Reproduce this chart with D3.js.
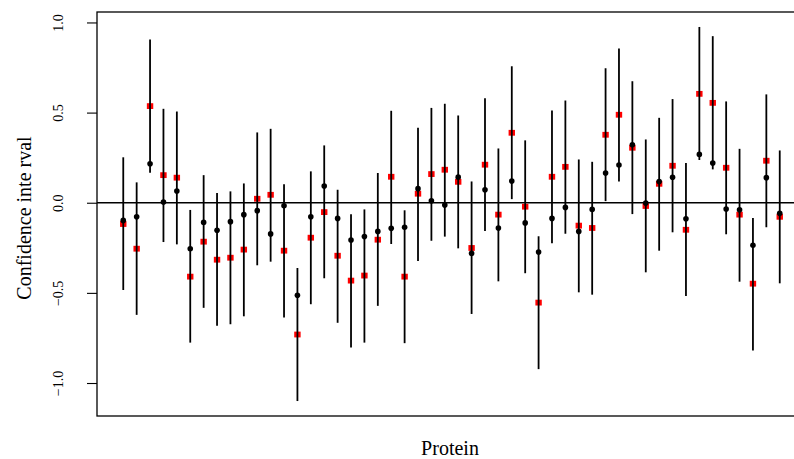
<!DOCTYPE html>
<html>
<head>
<meta charset="utf-8">
<script src="https://cdn.jsdelivr.net/npm/d3@7"></script>
<style>
  html, body { margin: 0; padding: 0; background: #fff; }
  svg { display: block; }
  svg text { font-family: 'Liberation Serif', 'Times New Roman', Tinos, 'DejaVu Serif', serif !important; fill: #000; }
</style>
</head>
<body>
<svg id="chart" width="794" height="459"></svg>
<script>
// ---- data ----
const proteins = d3.range(1, 51);
const upper = [0.252, 0.113, 0.905, 0.521, 0.506, -0.040, 0.153, 0.054, 0.063, 0.107,
               0.390, 0.410, 0.102, -0.362, 0.174, 0.318, 0.072, -0.064, -0.037, 0.165,
               0.510, -0.042, 0.416, 0.526, 0.549, 0.484, 0.118, 0.580, 0.301, 0.757,
               0.346, -0.186, 0.512, 0.567, 0.240, 0.227, 0.746, 0.855, 0.674, 0.351,
               0.471, 0.575, 0.220, 0.975, 0.924, 0.562, 0.299, -0.085, 0.601, 0.290];
const lower = [-0.484, -0.622, 0.166, -0.218, -0.231, -0.776, -0.583, -0.683, -0.674, -0.630,
               -0.347, -0.327, -0.637, -1.100, -0.563, -0.419, -0.666, -0.803, -0.776, -0.572,
               -0.229, -0.779, -0.323, -0.211, -0.188, -0.253, -0.617, -0.157, -0.436, 0.020,
               -0.391, -0.923, -0.225, -0.172, -0.497, -0.510, 0.009, 0.118, -0.063, -0.386,
               -0.266, -0.164, -0.517, 0.237, 0.185, -0.175, -0.438, -0.820, -0.136, -0.447];
const estimate = [-0.098, -0.078, 0.216, 0.004, 0.065, -0.255, -0.109, -0.153, -0.105, -0.066,
                  -0.044, -0.173, -0.017, -0.513, -0.078, 0.093, -0.087, -0.207, -0.188, -0.159,
                  -0.142, -0.136, 0.078, 0.011, -0.013, 0.142, -0.281, 0.072, -0.140, 0.120,
                  -0.112, -0.273, -0.087, -0.026, -0.159, -0.037, 0.165, 0.209, 0.321, -0.002,
                  0.118, 0.141, -0.089, 0.268, 0.220, -0.035, -0.039, -0.236, 0.139, -0.059];
const reference = [-0.118, -0.255, 0.536, 0.153, 0.139, -0.410, -0.216, -0.316, -0.305, -0.260,
                   0.022, 0.044, -0.266, -0.731, -0.194, -0.052, -0.294, -0.432, -0.404, -0.205,
                   0.144, -0.410, 0.050, 0.159, 0.183, 0.116, -0.251, 0.211, -0.066, 0.388,
                   -0.022, -0.554, 0.144, 0.199, -0.127, -0.140, 0.377, 0.488, 0.305, -0.018,
                   0.105, 0.205, -0.150, 0.604, 0.554, 0.194, -0.066, -0.449, 0.233, -0.078];
const yTicks = [-1.0, -0.5, 0.0, 0.5, 1.0];

// ---- layout ----
const svg = d3.select("#chart");
const pLeft = 97, pRight = 806, pTop = 12, pBottom = 416;
const serif = "'Liberation Serif', 'Times New Roman', Tinos, serif";

const n = proteins.length;
const xPad = (n - 1) * 0.04;
const x = d3.scaleLinear().domain([1 - xPad, n + xPad]).range([pLeft, pRight]);
const yMin = d3.min(lower), yMax = d3.max(upper);
const yPad = (yMax - yMin) * 0.04;
const y = d3.scaleLinear().domain([yMin - yPad, yMax + yPad]).range([pBottom, pTop]);

// zero line
svg.append("line")
  .attr("x1", pLeft).attr("x2", pRight)
  .attr("y1", y(0)).attr("y2", y(0))
  .attr("stroke", "#000").attr("stroke-width", 1.6);

// red squares (drawn under lines)
svg.append("g").selectAll("rect")
  .data(proteins)
  .join("rect")
  .attr("x", d => x(d) - 3.2)
  .attr("y", (d, i) => y(reference[i]) - 2.9)
  .attr("width", 6.4).attr("height", 5.8)
  .attr("fill", "#ff0000");

// CI lines
svg.append("g").selectAll("line")
  .data(proteins)
  .join("line")
  .attr("x1", d => x(d)).attr("x2", d => x(d))
  .attr("y1", (d, i) => y(upper[i]))
  .attr("y2", (d, i) => y(lower[i]))
  .attr("stroke", "#000").attr("stroke-width", 1.8);

// black dots
svg.append("g").selectAll("circle")
  .data(proteins)
  .join("circle")
  .attr("cx", d => x(d))
  .attr("cy", (d, i) => y(estimate[i]))
  .attr("r", 2.8)
  .attr("fill", "#000");

// box
svg.append("rect")
  .attr("x", pLeft).attr("y", pTop)
  .attr("width", pRight - pLeft).attr("height", pBottom - pTop)
  .attr("fill", "none").attr("stroke", "#000").attr("stroke-width", 1.3);

// y axis
const yAxis = d3.axisLeft(y).tickValues(yTicks).tickSize(10).tickFormat(d3.format(".1f"));
const ga = svg.append("g").attr("transform", `translate(${pLeft},0)`).call(yAxis);
ga.attr("font-family", serif);
ga.select(".domain").remove();
ga.selectAll(".tick line").attr("stroke", "#000").attr("stroke-width", 1.1);
ga.selectAll(".tick text")
  .attr("font-family", serif)
  .attr("font-size", 14)
  .attr("x", null)
  .attr("text-anchor", "middle")
  .attr("transform", "translate(-38,0) rotate(-90)")
  .attr("dy", "0.32em")
  .text(d => d3.format(".1f")(d).replace("-", "\u2212"));

// axis titles
svg.append("text")
  .attr("transform", `translate(31,${(pTop + pBottom) / 2 + 4}) rotate(-90)`)
  .attr("text-anchor", "middle")
  .attr("font-family", serif)
  .attr("font-size", 20)
  .text("Confidence inte rval");

svg.append("text")
  .attr("x", 450).attr("y", 455)
  .attr("text-anchor", "middle")
  .attr("font-family", serif)
  .attr("font-size", 20)
  .text("Protein");
</script>
</body>
</html>
